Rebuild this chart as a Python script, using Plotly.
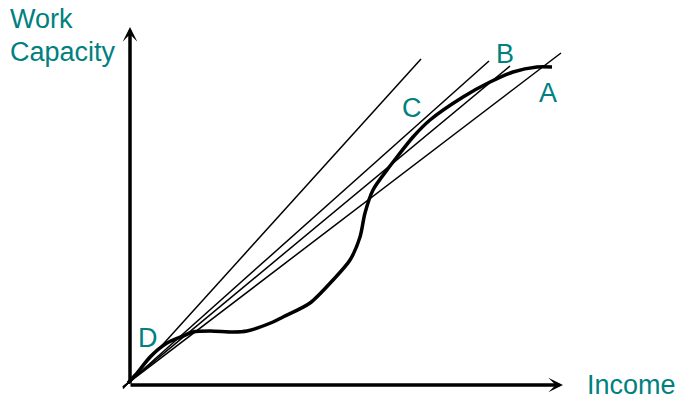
import plotly.graph_objects as go

# Curve: work capacity as a function of income
curve_income = [0, 10, 22, 39, 55, 65, 82, 105, 119, 145, 155, 182, 205, 222, 232, 237, 245, 259, 269, 285, 302, 335, 362, 385, 409, 424]
curve_capacity = [0, 11, 26, 40, 47, 51, 52, 51, 52, 61, 66, 80, 103, 123, 146, 170, 193, 213, 226, 246, 263, 286, 301, 311, 316, 316]

# Rays from origin: end points (income, capacity)
ray_end_income = [293, 361, 382, 433]
ray_end_capacity = [324, 322, 317, 330]

# Point labels
label_text = ["A", "B", "C", "D"]
label_income = [420, 377, 284, 20]
label_capacity = [290, 329, 275, 45]

TEAL = "#008080"
FONT = "Liberation Sans, Arial, sans-serif"
FS = 27

fig = go.Figure()

# rays
for xe, ye in zip(ray_end_income, ray_end_capacity):
    s = -5 / xe
    fig.add_trace(go.Scatter(
        x=[s * xe, xe], y=[s * ye, ye], mode="lines",
        line=dict(color="black", width=1.5), hoverinfo="skip", showlegend=False))

# curve
fig.add_trace(go.Scatter(
    x=curve_income, y=curve_capacity, mode="lines",
    line=dict(color="black", width=3.5, shape="spline", smoothing=0.8),
    hoverinfo="skip", showlegend=False))

annotations = []
# axis arrows
annotations.append(dict(x=2, y=356, ax=2, ay=-2, xref="x", yref="y", axref="x", ayref="y",
                        text="", showarrow=True, arrowhead=3, arrowsize=0.7, arrowwidth=3.5,
                        arrowcolor="black"))
annotations.append(dict(x=435, y=-2, ax=1, ay=-2, xref="x", yref="y", axref="x", ayref="y",
                        text="", showarrow=True, arrowhead=3, arrowsize=0.7, arrowwidth=3.5,
                        arrowcolor="black"))

for t, xi, yi in zip(label_text, label_income, label_capacity):
    annotations.append(dict(x=xi, y=yi, xref="x", yref="y", text=t, showarrow=False,
                            font=dict(family=FONT, size=FS, color=TEAL),
                            xanchor="center", yanchor="middle"))

annotations.append(dict(x=-120, y=364, xref="x", yref="y", text="Work", showarrow=False,
                        font=dict(family=FONT, size=FS, color=TEAL), xanchor="left", yanchor="middle"))
annotations.append(dict(x=-120, y=331, xref="x", yref="y", text="Capacity", showarrow=False,
                        font=dict(family=FONT, size=FS, color=TEAL), xanchor="left", yanchor="middle"))
annotations.append(dict(x=457, y=-2, xref="x", yref="y", text="Income", showarrow=False,
                        font=dict(family=FONT, size=FS, color=TEAL), xanchor="left", yanchor="middle"))

fig.update_layout(
    width=679, height=400,
    margin=dict(l=0, r=0, t=0, b=0),
    paper_bgcolor="white", plot_bgcolor="white",
    xaxis=dict(range=[-128, 551], visible=False, fixedrange=True),
    yaxis=dict(range=[-17, 383], visible=False, fixedrange=True),
    annotations=annotations,
)

fig.write_html("out.html", config={"displayModeBar": False},
               post_script="document.body.style.margin='0';")
